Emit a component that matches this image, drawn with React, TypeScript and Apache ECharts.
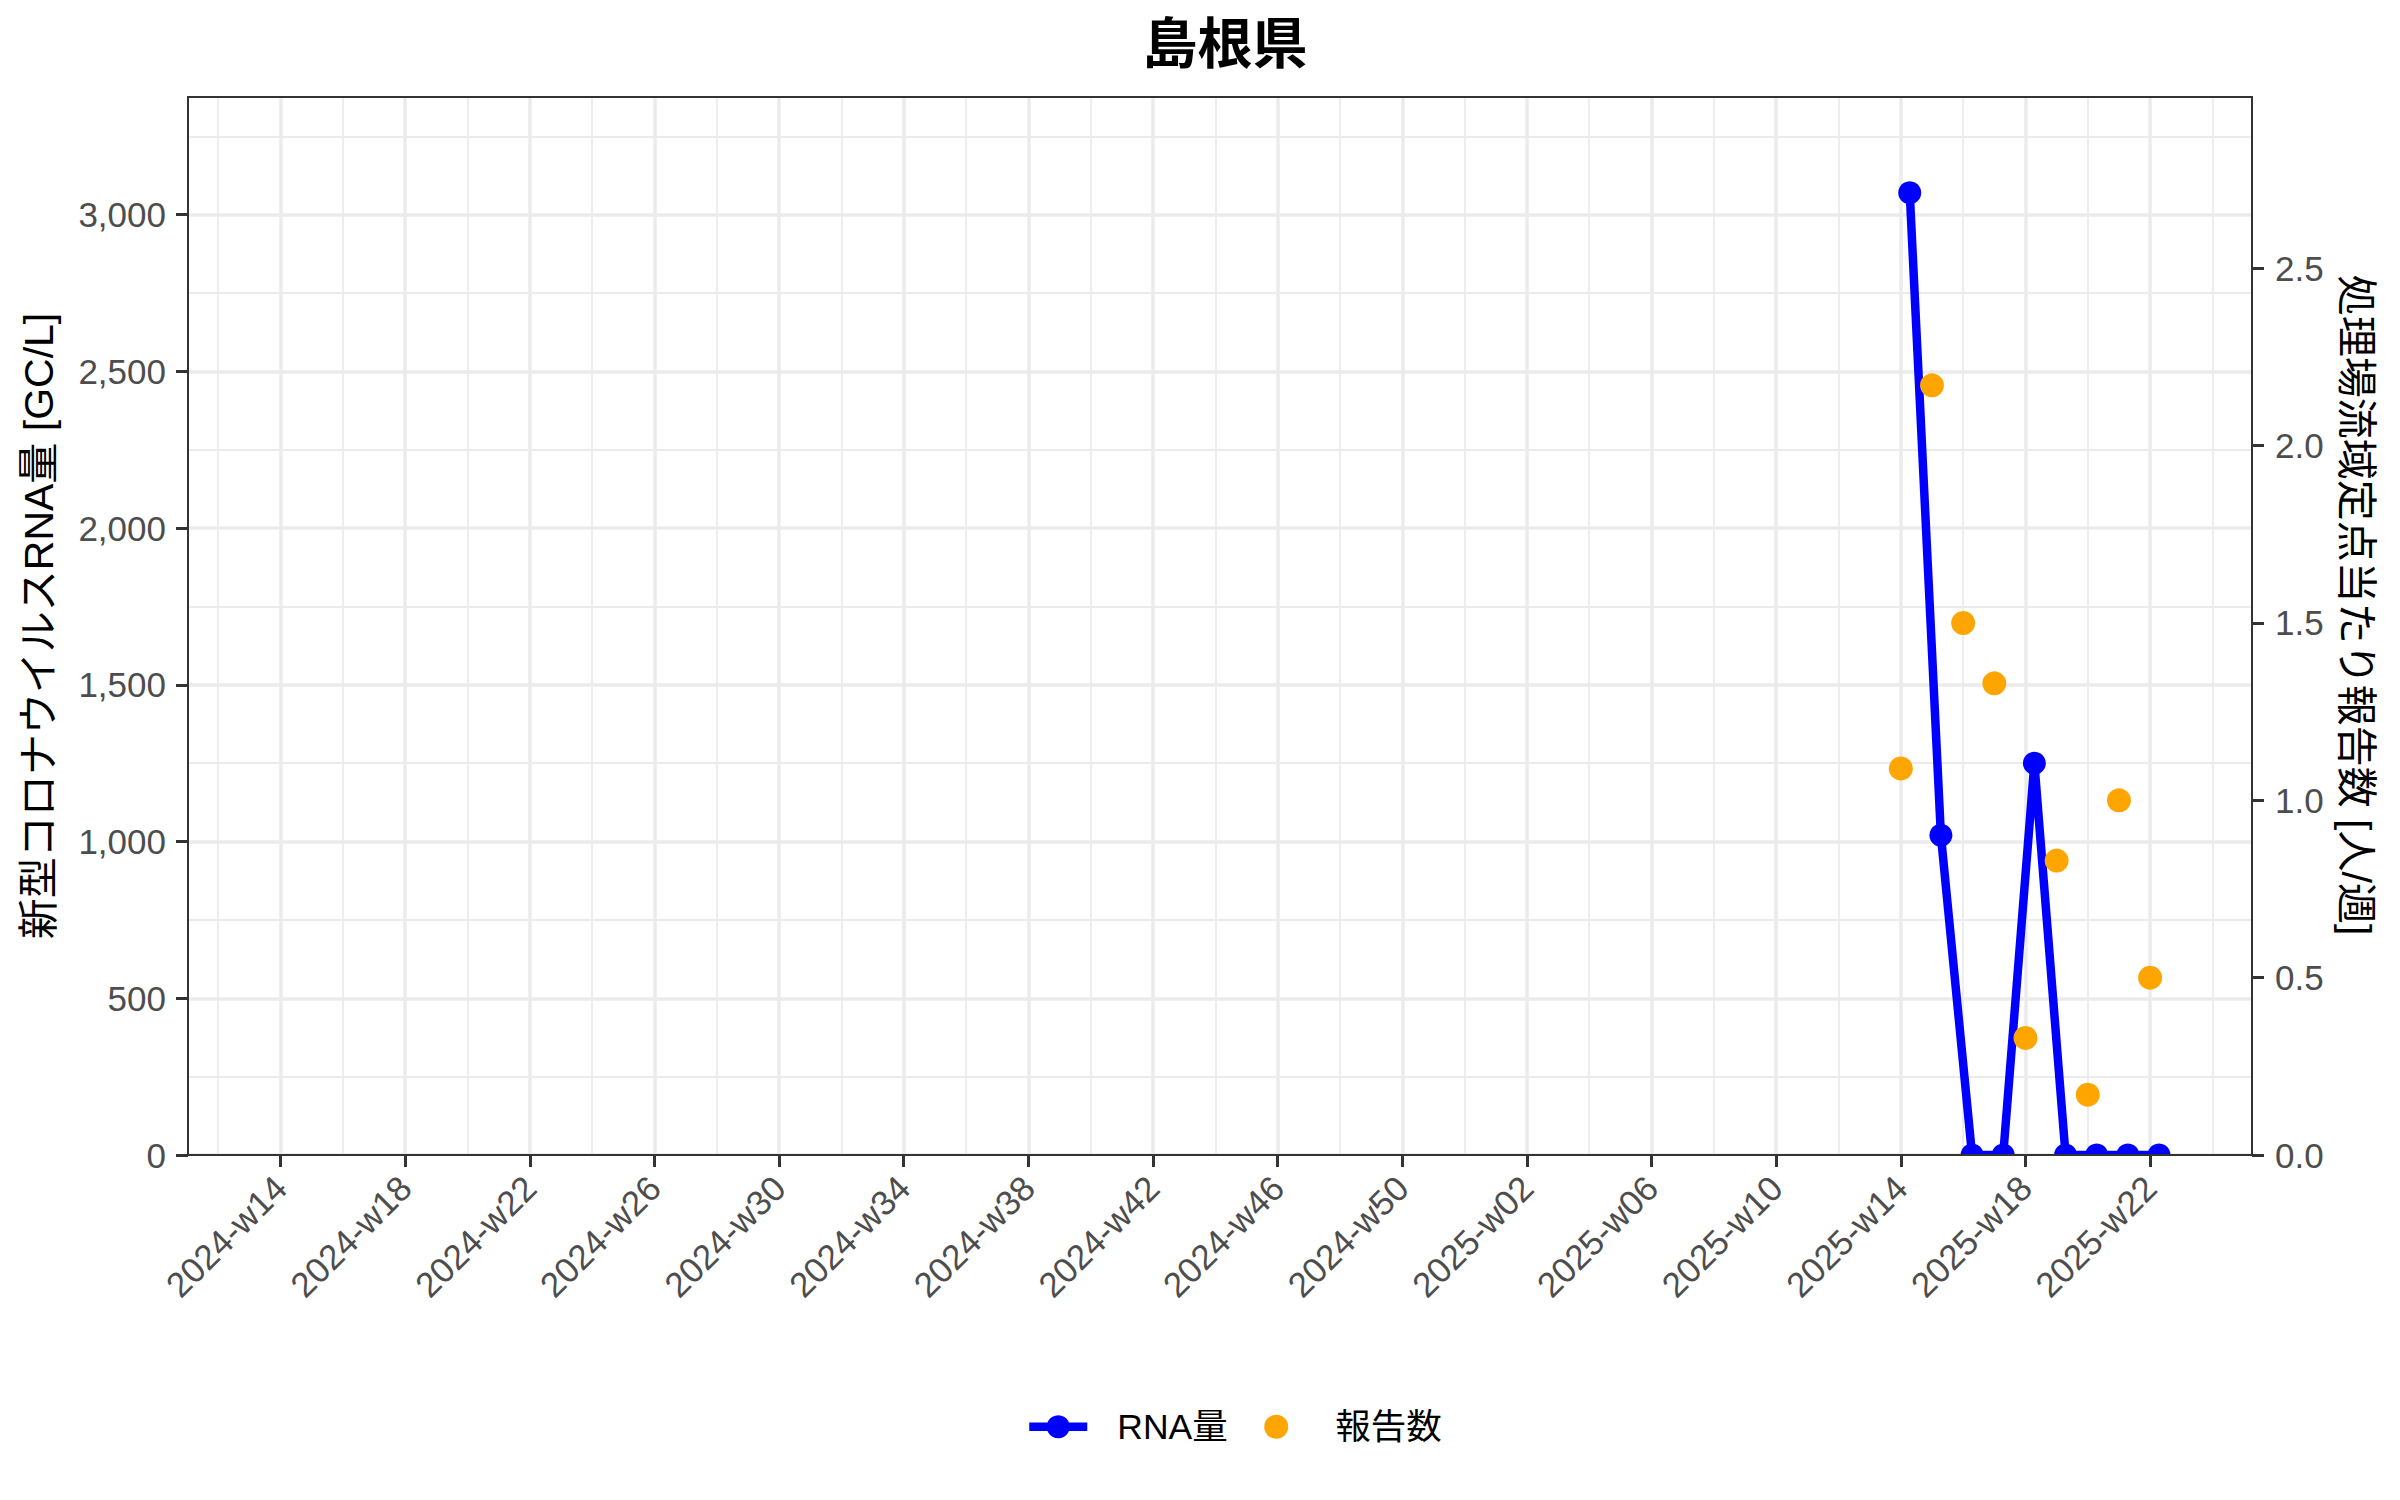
import { useEffect, useRef } from 'react'
import * as echarts from 'echarts'

const FONT = '"Liberation Sans", "Noto Sans CJK JP", sans-serif'

// x axis: ISO weeks, labelled every 4 weeks
const weekTickLabels = [
  '2024-w14', '2024-w18', '2024-w22', '2024-w26', '2024-w30', '2024-w34', '2024-w38',
  '2024-w42', '2024-w46', '2024-w50', '2025-w02', '2025-w06', '2025-w10', '2025-w14',
  '2025-w18', '2025-w22',
]

// 報告数 (per week, plotted at week start)
const reportWeeks = ['2025-w14', '2025-w15', '2025-w16', '2025-w17', '2025-w18', '2025-w19', '2025-w20', '2025-w21', '2025-w22']
const reportValues = [1.09, 2.17, 1.5, 1.33, 0.33, 0.83, 0.17, 1.0, 0.5]

// RNA量 (sampled two days into the week)
const rnaWeeks = ['2025-w14', '2025-w15', '2025-w16', '2025-w17', '2025-w18', '2025-w19', '2025-w20', '2025-w21', '2025-w22']
const rnaValues = [3070, 1020, 0, 0, 1250, 0, 0, 0, 0]
const rnaSampleDay = 2

const leftTicks = [0, 500, 1000, 1500, 2000, 2500, 3000]
const leftMinorTicks = [250, 750, 1250, 1750, 2250, 2750, 3250]
const rightTicks = [0, 0.5, 1.0, 1.5, 2.0, 2.5]

const X_MIN = 11.03
const X_MAX = 77.27
const Y_LEFT_MAX = 3375.5
const Y_RIGHT_MAX = 2.983

function weekIndex(label: string) {
  const [y, w] = label.split('-w')
  return (Number(y) - 2024) * 52 + Number(w)
}

const tickValues = weekTickLabels.map(weekIndex)
const minorValues = [...tickValues.map((v) => v - 2), tickValues[tickValues.length - 1] + 2]

const GRID = { left: 188, right: 148, top: 97, bottom: 345 }
const PANEL_W = 2400 - GRID.left - GRID.right
const PANEL_H = 1500 - GRID.top - GRID.bottom

// legend dot for 報告数: a 24px circle inside the 29px legend key box
const DOT_ICON = 'path://M0,0M29,29M26.5,14.5A12,12,0,1,1,2.5,14.5A12,12,0,1,1,26.5,14.5Z'

const hiddenAxisParts = {
  axisLine: { show: false },
  axisLabel: { show: false },
}

export default function App() {
  const chartRef = useRef<HTMLDivElement | null>(null)

  useEffect(() => {
    if (!chartRef.current) {
      return
    }
    const chart = echarts.init(chartRef.current, null, { renderer: 'svg' })

    chart.setOption({
      animation: false,
      backgroundColor: '#ffffff',
      title: {
        text: '島根県',
        left: 1220,
        top: 11,
        textAlign: 'center',
        textStyle: { fontSize: 55, fontWeight: 'bold', color: '#000000', fontFamily: FONT },
      },
      grid: { ...GRID },
      legend: {
        left: 1020,
        top: 1404,
        itemWidth: 58,
        itemHeight: 29,
        itemGap: 34,
        lineStyle: { width: 8.5 },
        textStyle: { fontSize: 35.5, color: '#000000', fontFamily: FONT, padding: [0, 0, 0, 25] },
        data: [{ name: 'RNA量' }, { name: '報告数', icon: DOT_ICON }],
      },
      xAxis: [
        {
          type: 'value',
          min: X_MIN,
          max: X_MAX,
          z: 60,
          axisLine: { show: false },
          axisTick: { show: true, length: 12, lineStyle: { color: '#333333', width: 3 }, customValues: tickValues },
          axisLabel: {
            customValues: tickValues,
            formatter: (v: number) => weekTickLabels[tickValues.indexOf(Math.round(v))] ?? '',
            rotate: 45,
            margin: 27,
            fontSize: 35,
            color: '#4D4D4D',
            fontFamily: FONT,
          },
          splitLine: { show: false },
        },
        {
          type: 'value',
          min: X_MIN,
          max: X_MAX,
          ...hiddenAxisParts,
          axisTick: { show: false, customValues: tickValues },
          splitLine: { show: true, lineStyle: { color: '#EBEBEB', width: 3.5 } },
        },
        {
          type: 'value',
          min: X_MIN,
          max: X_MAX,
          ...hiddenAxisParts,
          axisTick: { show: false, customValues: minorValues },
          splitLine: { show: true, lineStyle: { color: '#EBEBEB', width: 1.8 } },
        },
      ],
      yAxis: [
        {
          type: 'value',
          position: 'left',
          min: 0,
          max: Y_LEFT_MAX,
          z: 60,
          name: '新型コロナウイルスRNA量 [GC/L]',
          nameLocation: 'middle',
          nameGap: 129,
          nameMoveOverlap: false,
          nameTextStyle: { fontSize: 41, color: '#000000', fontFamily: FONT },
          axisLine: { show: false },
          axisTick: { show: true, length: 12, lineStyle: { color: '#333333', width: 3 }, customValues: leftTicks },
          axisLabel: {
            customValues: leftTicks,
            formatter: (v: number) => v.toLocaleString('en-US'),
            margin: 22,
            fontSize: 35,
            color: '#4D4D4D',
            fontFamily: FONT,
          },
          splitLine: { show: false },
        },
        {
          type: 'value',
          position: 'right',
          min: 0,
          max: Y_RIGHT_MAX,
          z: 60,
          name: '処理場流域定点当たり報告数 [人/週]',
          nameLocation: 'middle',
          nameRotate: -90,
          nameGap: 84,
          nameMoveOverlap: false,
          nameTextStyle: { fontSize: 41, color: '#000000', fontFamily: FONT, padding: [0, 42, 0, 0] },
          axisLine: { show: false },
          axisTick: { show: true, length: 12, lineStyle: { color: '#333333', width: 3 }, customValues: rightTicks },
          axisLabel: {
            customValues: rightTicks,
            formatter: (v: number) => v.toFixed(1),
            margin: 23,
            fontSize: 35,
            color: '#4D4D4D',
            fontFamily: FONT,
          },
          splitLine: { show: false },
        },
        {
          type: 'value',
          position: 'left',
          min: 0,
          max: Y_LEFT_MAX,
          ...hiddenAxisParts,
          axisTick: { show: false, customValues: leftTicks },
          splitLine: { show: true, lineStyle: { color: '#EBEBEB', width: 3.5 } },
        },
        {
          type: 'value',
          position: 'left',
          min: 0,
          max: Y_LEFT_MAX,
          ...hiddenAxisParts,
          axisTick: { show: false, customValues: leftMinorTicks },
          splitLine: { show: true, lineStyle: { color: '#EBEBEB', width: 1.8 } },
        },
      ],
      graphic: [
        {
          type: 'rect',
          z: 50,
          silent: true,
          shape: { x: GRID.left, y: GRID.top + PANEL_H + 1, width: PANEL_W, height: 13 },
          style: { fill: '#ffffff' },
        },
        {
          type: 'rect',
          z: 51,
          silent: true,
          shape: { x: GRID.left, y: GRID.top, width: PANEL_W, height: PANEL_H },
          style: { fill: 'none', stroke: '#333333', lineWidth: 2 },
        },
      ],
      series: [
        {
          name: 'RNA量',
          type: 'line',
          xAxisIndex: 0,
          yAxisIndex: 0,
          z: 3,
          symbol: 'circle',
          symbolSize: 23,
          showAllSymbol: true,
          lineStyle: { color: '#0000FF', width: 8.5 },
          itemStyle: { color: '#0000FF' },
          data: rnaWeeks.map((w, i) => [weekIndex(w) + rnaSampleDay / 7, rnaValues[i]]),
        },
        {
          name: '報告数',
          type: 'scatter',
          xAxisIndex: 0,
          yAxisIndex: 1,
          z: 4,
          symbol: 'circle',
          symbolSize: 24,
          itemStyle: { color: '#FFA500', opacity: 1 },
          data: reportWeeks.map((w, i) => [weekIndex(w), reportValues[i]]),
        },
      ],
    })

    return () => {
      chart.dispose()
    }
  }, [])

  return (
    <div
      ref={chartRef}
      style={{ position: 'absolute', left: 0, top: 0, width: 2400, height: 1500 }}
    />
  )
}
